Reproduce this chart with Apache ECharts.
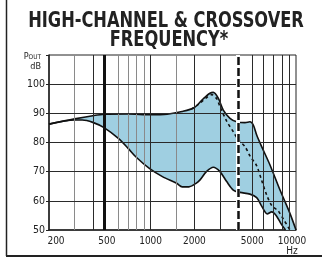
<!DOCTYPE html>
<html lang="en">
<head>
<meta charset="UTF-8">
<title>High-channel &amp; crossover frequency</title>
<script src="https://cdn.jsdelivr.net/npm/echarts@6.0.0/dist/echarts.min.js"></script>
<style>
  html, body { margin: 0; padding: 0; background: #fff; }
  #chart { width: 322px; height: 259px; }
</style>
</head>
<body>
<div id="chart"></div>
<script>
    // upper edge of the band (Hz / dB)
    var upperHz = [200, 300, 400, 480, 700, 1000, 1300, 1645, 2000, 2303, 2560, 2698, 2920, 3161, 3515, 3908, 4457, 4823, 5085, 5365, 5806, 6623, 7762, 9085, 10000];
    var upperDb = [86.3, 88.1, 89.2, 89.7, 89.8, 89.5, 89.7, 90.6, 92.0, 95.0, 96.9, 97.2, 95.2, 91.1, 88.3, 87.1, 86.8, 87.1, 86.0, 82.6, 78.6, 72.3, 63.7, 55.7, 50];
    // lower edge of the band
    var lowerHz = [200, 300, 339, 400, 478, 600, 700, 790, 980, 1205, 1510, 1650, 1835, 2053, 2180, 2420, 2700, 3000, 3336, 3703, 4118, 4823, 5365, 5806, 6340, 6806, 7300, 7900, 8470];
    var lowerDb = [86.3, 87.7, 87.7, 86.9, 85.1, 81.4, 78.0, 75.1, 71.1, 68.3, 66.0, 64.8, 64.8, 66.0, 67.1, 70.0, 71.5, 70.0, 66.6, 63.7, 62.9, 62.3, 61.1, 58.2, 55.5, 56.2, 55.0, 52.1, 50];
    // dashed curve
    var dashHz = [1900, 2150, 2400, 2630, 2850, 3000, 3336, 3703, 4000, 4457, 4823, 5365, 5806, 6286, 6806, 7517, 8265, 9087];
    var dashDb = [91.4, 93.2, 95.2, 96.4, 95.0, 92.3, 87.3, 83.7, 81.0, 78.6, 75.4, 72.0, 67.0, 62.0, 58.4, 56.6, 53.4, 50];

    var xLabels = [200, 500, 1000, 2000, 5000, 10000];
    var yLines = [60, 70, 80, 90, 100];
    var gridGray = [300, 600, 700, 800, 900, 1500];
    var gridDark = [400, 1000, 2000, 3000, 5000, 6000, 7000, 8000, 9000];
    var crossLow = 480;
    var crossHigh = 4000;

    var font = "'DejaVu Sans Condensed', 'DejaVu Sans', sans-serif";

    function pairs(xs, ys) {
        return xs.map(function (x, i) { return [x, ys[i]]; });
    }

    function vLines(list) {
        return list.map(function (v) { return { xAxis: v }; });
    }

    var chart = echarts.init(document.getElementById('chart'));

    chart.setOption({
        animation: false,
        backgroundColor: '#fff',
        grid: { left: 49, right: 26, top: 55, bottom: 29, show: true, borderColor: '#222', borderWidth: 1 },
        graphic: [
            { type: 'line', shape: { x1: 6.5, y1: 0, x2: 6.5, y2: 256 }, style: { stroke: '#222', lineWidth: 1.5 } },
            { type: 'line', shape: { x1: 6, y1: 256, x2: 322, y2: 256 }, style: { stroke: '#222', lineWidth: 2 } },
            { type: 'text', x: 166, y: 21, scaleX: 0.82, style: { text: 'HIGH-CHANNEL & CROSSOVER', align: 'center', verticalAlign: 'middle', fontFamily: font, fontWeight: 'bold', fontSize: 22, fill: '#222' } },
            { type: 'text', x: 169, y: 40.5, scaleX: 0.82, style: { text: 'FREQUENCY*', align: 'center', verticalAlign: 'middle', fontFamily: font, fontWeight: 'bold', fontSize: 22, fill: '#222' } },
            { type: 'text', x: 41, y: 57, style: { text: '{p|P}{o|OUT}', align: 'right', verticalAlign: 'middle', rich: { p: { fontFamily: font, fontSize: 9, fill: '#222' }, o: { fontFamily: font, fontSize: 6.5, fill: '#222' } } } },
            { type: 'text', x: 41, y: 67, style: { text: 'dB', align: 'right', verticalAlign: 'middle', fontFamily: font, fontSize: 9, fill: '#222' } }
        ],
        xAxis: {
            type: 'log',
            logBase: 10,
            min: 200,
            max: 10000,
            axisLine: { show: true, lineStyle: { color: '#222', width: 1.5 } },
            axisTick: { show: false },
            splitLine: { show: false },
            minorTick: { show: false },
            axisLabel: {
                customValues: xLabels,
                margin: 6,
                fontFamily: font,
                fontSize: 10,
                color: '#222',
                formatter: function (v) {
                    if (v === 200) return '{first|200}';
                    if (v === 10000) return '{last|10000}\n{last|Hz}';
                    return String(v);
                },
                rich: {
                    first: { fontFamily: font, fontSize: 10, color: '#222', padding: [0, 0, 0, 14] },
                    last: { fontFamily: font, fontSize: 10, color: '#222', lineHeight: 10, padding: [0, 8, 0, 0] }
                }
            }
        },
        yAxis: {
            type: 'value',
            min: 50,
            max: 110,
            interval: 10,
            axisLine: { show: true, lineStyle: { color: '#222', width: 1.5 } },
            axisTick: { show: true, length: 3, lineStyle: { color: '#222' } },
            splitLine: { show: false },
            axisLabel: {
                margin: 4,
                fontFamily: font,
                fontSize: 10.5,
                color: '#222',
                formatter: function (v) { return v === 110 ? '' : String(v); }
            }
        },
        series: [
            {
                type: 'custom',
                z: 1,
                silent: true,
                data: [[200, 86.3]],
                renderItem: function (params, api) {
                    var pts = [];
                    for (var i = 0; i < upperHz.length; i++) pts.push(api.coord([upperHz[i], upperDb[i]]));
                    for (var j = lowerHz.length - 1; j >= 0; j--) pts.push(api.coord([lowerHz[j], lowerDb[j]]));
                    return { type: 'polygon', shape: { points: pts }, style: { fill: '#9fcfe1' } };
                }
            },
            {
                type: 'line', z: 2, data: [], silent: true,
                markLine: { silent: true, symbol: 'none', label: { show: false }, lineStyle: { color: '#8a8a8a', width: 1, type: 'solid' }, data: vLines(gridGray) }
            },
            {
                type: 'line', z: 2, data: [], silent: true,
                markLine: {
                    silent: true, symbol: 'none', label: { show: false }, lineStyle: { color: '#2a2a2a', width: 1, type: 'solid' },
                    data: vLines(gridDark).concat(yLines.map(function (v) { return { yAxis: v }; }))
                }
            },
            {
                type: 'line', z: 3, smooth: 0.3, showSymbol: false, silent: true,
                lineStyle: { color: '#111', width: 1.6 },
                data: pairs(upperHz, upperDb)
            },
            {
                type: 'line', z: 3, smooth: 0.3, showSymbol: false, silent: true,
                lineStyle: { color: '#111', width: 1.6 },
                data: pairs(lowerHz, lowerDb)
            },
            {
                type: 'line', z: 3, smooth: 0.3, showSymbol: false, silent: true,
                lineStyle: { color: '#111', width: 1.6, type: [3, 3] },
                data: pairs(dashHz, dashDb)
            },
            {
                type: 'line', z: 4, data: [], silent: true,
                markLine: { silent: true, symbol: 'none', label: { show: false }, lineStyle: { color: '#111', width: 3, type: 'solid' }, data: [{ xAxis: crossLow }] }
            },
            {
                type: 'line', z: 4, data: [], silent: true,
                markLine: { silent: true, symbol: 'none', label: { show: false }, lineStyle: { color: '#fff', width: 4, type: 'solid' }, data: [{ xAxis: crossHigh }] }
            },
            {
                type: 'line', z: 5, data: [], silent: true,
                markLine: { silent: true, symbol: 'none', label: { show: false }, lineStyle: { color: '#111', width: 2.5, type: [8, 3] }, data: [{ xAxis: crossHigh }] }
            }
        ]
    });
</script>
</body>
</html>
